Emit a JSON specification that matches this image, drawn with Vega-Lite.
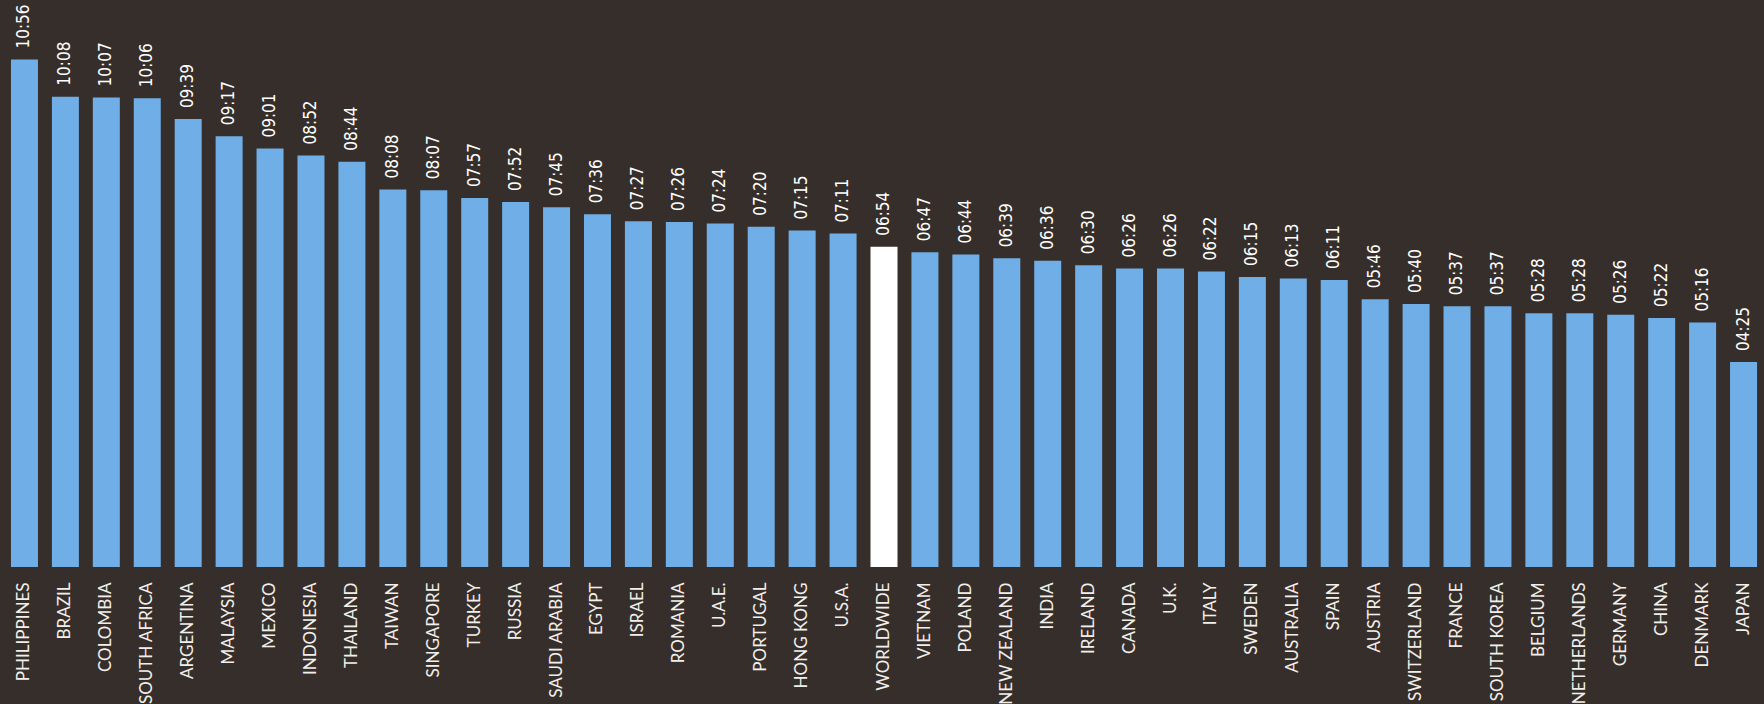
{
  "$schema": "https://vega.github.io/schema/vega-lite/v6.json",
  "width": 1760,
  "height": 567,
  "autosize": {"type": "none"},
  "padding": {"left": 4, "top": 0, "right": 0, "bottom": 137},
  "background": "#362e2a",
  "config": {"view": {"stroke": null}},
  "data": {
    "values": [
      {"country": "PHILIPPINES", "time": "10:56", "minutes": 656},
      {"country": "BRAZIL", "time": "10:08", "minutes": 608},
      {"country": "COLOMBIA", "time": "10:07", "minutes": 607},
      {"country": "SOUTH AFRICA", "time": "10:06", "minutes": 606},
      {"country": "ARGENTINA", "time": "09:39", "minutes": 579},
      {"country": "MALAYSIA", "time": "09:17", "minutes": 557},
      {"country": "MEXICO", "time": "09:01", "minutes": 541},
      {"country": "INDONESIA", "time": "08:52", "minutes": 532},
      {"country": "THAILAND", "time": "08:44", "minutes": 524},
      {"country": "TAIWAN", "time": "08:08", "minutes": 488},
      {"country": "SINGAPORE", "time": "08:07", "minutes": 487},
      {"country": "TURKEY", "time": "07:57", "minutes": 477},
      {"country": "RUSSIA", "time": "07:52", "minutes": 472},
      {"country": "SAUDI ARABIA", "time": "07:45", "minutes": 465},
      {"country": "EGYPT", "time": "07:36", "minutes": 456},
      {"country": "ISRAEL", "time": "07:27", "minutes": 447},
      {"country": "ROMANIA", "time": "07:26", "minutes": 446},
      {"country": "U.A.E.", "time": "07:24", "minutes": 444},
      {"country": "PORTUGAL", "time": "07:20", "minutes": 440},
      {"country": "HONG KONG", "time": "07:15", "minutes": 435},
      {"country": "U.S.A.", "time": "07:11", "minutes": 431},
      {"country": "WORLDWIDE", "time": "06:54", "minutes": 414},
      {"country": "VIETNAM", "time": "06:47", "minutes": 407},
      {"country": "POLAND", "time": "06:44", "minutes": 404},
      {"country": "NEW ZEALAND", "time": "06:39", "minutes": 399},
      {"country": "INDIA", "time": "06:36", "minutes": 396},
      {"country": "IRELAND", "time": "06:30", "minutes": 390},
      {"country": "CANADA", "time": "06:26", "minutes": 386},
      {"country": "U.K.", "time": "06:26", "minutes": 386},
      {"country": "ITALY", "time": "06:22", "minutes": 382},
      {"country": "SWEDEN", "time": "06:15", "minutes": 375},
      {"country": "AUSTRALIA", "time": "06:13", "minutes": 373},
      {"country": "SPAIN", "time": "06:11", "minutes": 371},
      {"country": "AUSTRIA", "time": "05:46", "minutes": 346},
      {"country": "SWITZERLAND", "time": "05:40", "minutes": 340},
      {"country": "FRANCE", "time": "05:37", "minutes": 337},
      {"country": "SOUTH KOREA", "time": "05:37", "minutes": 337},
      {"country": "BELGIUM", "time": "05:28", "minutes": 328},
      {"country": "NETHERLANDS", "time": "05:28", "minutes": 328},
      {"country": "GERMANY", "time": "05:26", "minutes": 326},
      {"country": "CHINA", "time": "05:22", "minutes": 322},
      {"country": "DENMARK", "time": "05:16", "minutes": 316},
      {"country": "JAPAN", "time": "04:25", "minutes": 265}
    ]
  },
  "encoding": {
    "x": {
      "field": "country",
      "type": "nominal",
      "sort": null,
      "scale": {"paddingInner": 0.34, "paddingOuter": 0.17},
      "axis": {
        "title": null,
        "labelAngle": -90,
        "labelFont": "Lato",
        "labelFontSize": 17,
        "labelColor": "#f2efea",
        "ticks": false,
        "domain": false,
        "grid": false,
        "labelPadding": 15,
        "labelLimit": 0,
        "labelOverlap": false
      }
    },
    "y": {
      "field": "minutes",
      "type": "quantitative",
      "scale": {"domain": [0, 733], "nice": false},
      "axis": null
    }
  },
  "layer": [
    {
      "mark": {"type": "bar"},
      "encoding": {
        "color": {
          "condition": {"test": "datum.country === 'WORLDWIDE'", "value": "#ffffff"},
          "value": "#6faee6"
        }
      }
    },
    {
      "mark": {
        "type": "text",
        "angle": 270,
        "align": "left",
        "baseline": "middle",
        "dx": 11,
        "font": "DejaVu Sans Condensed",
        "fontSize": 17,
        "color": "#ffffff"
      },
      "encoding": {"text": {"field": "time", "type": "nominal"}}
    }
  ]
}
